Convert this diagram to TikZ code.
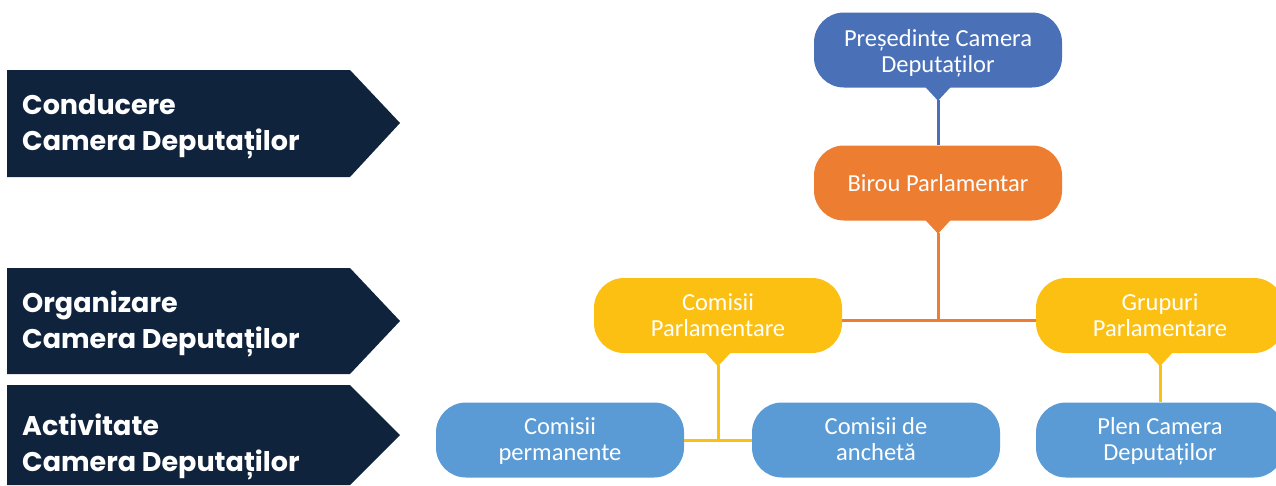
\documentclass[tikz,border=0pt]{standalone}
\usepackage{fontspec}
\setmainfont{Carlito}
\newfontfamily\banfont{Poppins}
\definecolor{navy}{HTML}{10233D}
\definecolor{cblue}{HTML}{4A71B8}
\definecolor{corange}{HTML}{ED7D31}
\definecolor{cyellow}{HTML}{FCC012}
\definecolor{clight}{HTML}{5B9BD5}
\newcommand\twolines[3][-2.5pt]{\raisebox{#1}[\height][\depth]{\begin{tabular}{@{}c@{}}#2\\#3\end{tabular}}}
\begin{document}
\begin{tikzpicture}[x=1pt,y=-1pt,
  box/.style={rectangle, rounded corners=30pt, minimum width=248pt, minimum height=75pt,
    text=white, font=\fontsize{24.5}{26}\selectfont, inner sep=0pt},
  banner/.style={fill=navy},
  bantext/.style={anchor=west, text=white, align=left, inner sep=0pt,
    font=\banfont\bfseries\fontsize{27}{36}\selectfont},
  conn/.style={line width=3pt},
]
\useasboundingbox (0,0) rectangle (1276,485);
% banners
\fill[banner] (7,70) -- (350,70) -- (400,123) -- (350,177) -- (7,177) -- cycle;
\fill[banner] (7,268) -- (350,268) -- (400,321) -- (350,374) -- (7,374) -- cycle;
\fill[banner] (7,385) -- (350,385) -- (400,435) -- (350,485) -- (7,485) -- cycle;
\node[bantext] (b1) at (22,127) {Conducere\\Camera Deputaților};
\node[bantext] (b2) at (22,324) {Organizare\\Camera Deputaților};
\node[bantext] (b3) at (22,447) {Activitate\\Camera Deputaților};
% nodes
\node[box, fill=cblue] (pres) at (938,50) {\twolines[-4pt]{Președinte Camera}{Deputaților}};
\node[box, fill=corange] (bir) at (938,183) {Birou Parlamentar};
\node[box, fill=cyellow] (cp) at (718,315.5) {\twolines{Comisii}{Parlamentare}};
\node[box, fill=cyellow] (gp) at (1160,315.5) {\twolines{Grupuri}{Parlamentare}};
\node[box, fill=clight] (perm) at (560,440) {\twolines{Comisii}{permanente}};
\node[box, fill=clight] (anch) at (876,440) {\twolines{Comisii de}{anchetă}};
\node[box, fill=clight] (plen) at (1160,440) {\twolines{Plen Camera}{Deputaților}};
% pointers
\foreach \n/\c in {pres/cblue, bir/corange, cp/cyellow, gp/cyellow}{
  \fill[\c] ([xshift=-13pt,yshift=1pt]\n.south) -- ([yshift=-13pt]\n.south) -- ([xshift=13pt,yshift=1pt]\n.south) -- cycle;
  \coordinate (\n tip) at ([yshift=-12pt]\n.south);
}
\coordinate (cpe) at ([yshift=-4.5pt]cp.east);
% connectors
\draw[conn, cblue] (prestip) -- (bir.north);
\draw[conn, corange] (birtip) -- (birtip |- cpe);
\draw[conn, corange] (cpe) -- (cpe -| gp.west);
\draw[conn, cyellow] (cptip) -- (cptip |- perm.east);
\draw[conn, cyellow] (perm.east) -- (anch.west);
\draw[conn, cyellow] (gptip) -- (plen.north);
\end{tikzpicture}
\end{document}
